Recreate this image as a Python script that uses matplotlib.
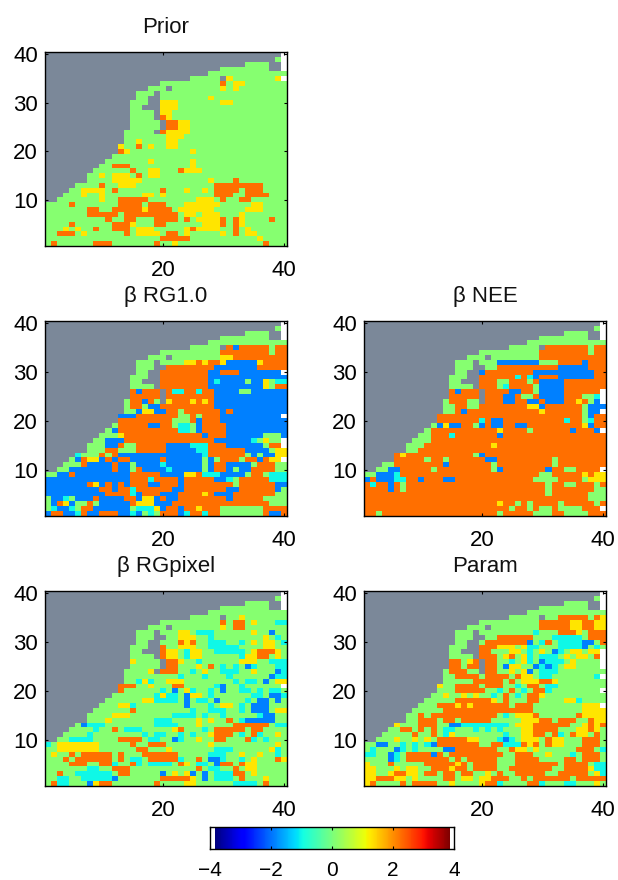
import numpy as np
import matplotlib
matplotlib.use("Agg")
import matplotlib.pyplot as plt

plt.rcParams['font.family'] = ['Liberation Sans', 'DejaVu Sans']

# cell classes: # sea, . near zero, y ~1.3, o ~2.3, c ~-1, b ~-2, _ blank
CLASS_VALUES = {'.': 0.11, 'y': 1.34, 'o': 2.34, 'c': -1.05, 'b': -2.0, '#': np.nan, '_': 99.0}

COAST_TOP = [
    "########## ########## ########## #########_",
    "########## ########## ########## ########._",
    "########## ########## ########## ###....##_",
    "########## ########## #########. .......##_",
    "########## ########## #######... ..........",
]

PRIOR = COAST_TOP + [
    "########## ########## ####.....# y.......y_",
    "########## #########. .........o .yy.......",
    "########## #######... #........y .y........",
    "########## #####...#. .......... ..........",
    "########## #####..##. .......y.. ..........",
    "########## ####...##y yy.......y y.........",
    "########## ####..###y yy........ ..........",
    "########## ####....#y y......... ..........",
    "########## ####....#o y......... ..........",
    "########## ####.....# ooyy...... ..........",
    "########## ####.....# ooyy...... ..........",
    "########## ###.....#o yyyy...... ..........",
    "########## ###....... yyy....... ..........",
    "########## ###..y.... yy........ ..........",
    "########## ##y..o.y.. yy........ ..........",
    "########## ##oy...... ....y..... ..........",
    "########## #......... .......... ..........",
    "########## .......y.. ....y..... ..........",
    "#########. .ooo...... ....y..... ..........",
    "########.. ....o..yy. ..oyyy.... ..........",
    "#######..y .yyy.o.yy. .......... ..........",
    "#######... .yyyyy.... .......y.. .o........",
    "#####....o ..yyy..... ........oo oooooo....",
    "####..yyyy .o.......o ...y..y.oo oo.ooo....",
    "###...y..y ......yy.y ........oo o..oooo...",
    "##.......y ..ooooo... .....yyy.o ..oo......",
    "....o..... ..oooo.ooo ...yyyyyy. ....yy....",
    ".......oo. .oooooyooo o.yyyyyy.. ...yyy....",
    ".......ooo oo.ooooooo oo.yy.yyy. ..y.......",
    ".......... o..oo...oo oo.o.yyyyo .oy....o..",
    "....o..... .oooy...oo ......yyyo .oy.......",
    "...y.y..o. .ooo.yyy.. ...yoyyyy. .o.y......",
    "..ooo.y... ...o.yyyy. oo.y.....y .o.yy.....",
    ".......... .........o oooo...... .....y....",
    ".o......oo o.......o. .y........ ......o...",
]

BETA_RG10 = COAST_TOP + [
    "########## ########## ####.....# obooooo.oo",
    "########## #########. .........o ooooooo.oo",
    "########## #######... #........y yooooooooo",
    "########## #####...#. ...yyoyooy bbbbbyoooo",
    "########## #####...## oooooooobb bbbbbooooo",
    "########## #####..##o ooooooobbo oobbbbbbb_",
    "########## ####...##o ooooooobbb bbbbbbbbbb",
    "########## ####..###o ooooooobcb bbb.bby.cc",
    "########## ####....#o ooooooobbb bbbbbby.oo",
    "########## ####obooo# occoocoobb bb..bbbbbb",
    "########## ####ooooo# oooooooobb bbbbbbbbbb",
    "########## ###.oobo.# yoooyoyobb bbbbbbbbbb",
    "########## ###.oo.bbo oooooooobb bbbbbbbbbb",
    "########## ###..byybb oo.oooooob obbbbbbbbb",
    "########## ##bbbooooo oo..o.ooob bbbbbbbbb_",
    "########## ##oooooooo o...obooob bbbbbbbbbb",
    "########## #.ooooobbo o.cc.boooo bbbbbbbbbb",
    "########## .boooooooo oocc.boooo bbbbbbbbbb",
    "#########. ..yooooooo oooooobooo bbbbbb...b",
    "########.. bbbooooooo oooooooobb bbbbc.y.._",
    "#######... bbo..ooooo bbbbcccooo bbbbbb.oo_",
    "#######... oo...ooooo bbbbbccooo ooobbbb.yy",
    "#####c...o .obbbbbbbb bbbbbbcooo ooo.b.bbyy",
    "####.boyyb oboobbbbbo bbbbbb.b.o oo.ooboyy_",
    "###...obbb bobb.bbbbc bbbbbb.boo bbbb.ooo..",
    "##..bbbbbb bobb.obbbb cbbbbb.boo b.bboooo..",
    "..bbobbbbb bbbbooooob bbbyyocccb bbb.oo.ccc",
    "bbbbbbbbbb bbbbooocoo oobooooobb c.oooooccc",
    "bbbbbbboyb obobooobbo oobooooooo o.oooooobb",
    "bbbbbbbbbo oboocooooo obbooooooo bboooooob.",
    "bbbbbbbbbb oooocbooob bbooooyobb booooooo..",
    ".bbc.bbbob bbboobyybo bboooooooo booooo....",
    ".boyb..o.b bbbboyyybb booooooooo ooooooo...",
    ".cbbc.oobb bbbb.cccyb oobooyooo. ......oooo",
    "boobbcobbo oobbcb.c.o oobcoocoo. ......obbo",
]

BETA_NEE = COAST_TOP + [
    "########## ########## ####.....# ooooooo.oo",
    "########## #########. .........o ooooooo.oo",
    "########## #######... #........o oooooooooo",
    "########## #####...#. ..bbbbbbb. ..oooobooo",
    "########## #####...## ..oooooooo oobbbbbooo",
    "########## #####..##b oooooooobb bbbbbbbboo",
    "########## ####...##o ooooococbo oobbbbbboo",
    "########## ####..###o oo..ooo.ob bbbooooooo",
    "########## ####....#o oo.coooo.b bbbooooooo",
    "########## ####obooo# oooobboo.b bbboooooo_",
    "########## ####ooooo# ooobbo..ob bbbooo..c_",
    "########## ###.ooo..# ooobboobbo bbbooyo.b_",
    "########## ###..oo..o oooooooyyb oooooo.bbb",
    "########## ###..obooo oooooooooy oooooo.bb_",
    "########## ##oooooooo oooooooooo oooooo.boo",
    "########## ##oooooooc obbooooooo ooocoo.coo",
    "########## #.bybboo.b obboobbooo ooooooyboo",
    "########## .ooooooooo ooyoooo.oo oooobooob_",
    "#########. .ooocooooo oobooooooo oooooooooo",
    "########.. .ooooooooo oooooooooo oooooooooo",
    "#######... oooooooooo oyoooooooo oooooooooo",
    "#######..o oooooooooo oooooooooo oooooooooo",
    "#####oyooo oooooooo.b oooooooooo oooooooooo",
    "#####ooooo .oo.oooooo bboooooooo o.oooooooo",
    "###..ooooo ooobOOOOOO o.oooooooo o.oooooooo".replace('O', 'o'),
    "##..bboooo o.oooooooo o.booooooo boo..oooo_",
    "..bbbcoooo oooooooooo ooooooooo. .oooooyoyy",
    "bobbbccoob ooobbooooo oooooooo.. ..oooo.yyy",
    "ocoobo.ooo oooooooooo oooooooooo .oo..ooo.o",
    "oooobo.ooo oooooooooo oooooooooo .ooooooo..",
    "oooooooooo oooooooooo oooooooooo .oooooo...",
    "oooooooooo oooooooooo oooooooooo ooooooo...",
    "oooooooooo oooooooooo ooyoo.o.oo oo.ooooo.o",
    "oooooooooo oooooooooo oooo.oo.o. .o....ooo_",
    "oo.ooooooo oooooooooo oo.ooooo.. .oo....ooo",
]

BETA_RGPIXEL = COAST_TOP + [
    "########## ########## ####.....# ..y.......",
    "########## #########. .........o .oo.y...cc",
    "########## #######... #........y .oo.......",
    "########## #####...#. ..yy.ccc.. ....y..b..",
    "########## #####...## ..yyy..c.. ......y.c.",
    "########## #####..##. ..oyo..ccc ..c.y.yy.c",
    "########## ####...##o ..yyy..ccc cc....yy..",
    "########## ####..###o yy.cyy..cc ccc.yoooy.",
    "########## ####....#o yy.cyy.... ..cyyoo.y.",
    "########## ####y....# ooy..c.... ..yyy..ccc",
    "########## ####.....# oo...y.o.c .c.bc...cc",
    "########## ###....y#o oo..c.y..c cc..y...bc",
    "########## ###....... ..c...c... c......bcc",
    "########## ###..cyc.. yyy....... .c.cc.b.yy",
    "########## ##ooo..y.. .oo.....cb ..c......_",
    "########## ##o......c .b.yc..c.b ..cc.c.cc.",
    "########## #.......cy cc.byy.c.. ....cc.bbc",
    "########## ......yycc cc.b.cc.b. ...c.bb.b.",
    "#########. ..yyc..... ...b...c.y y.c.bbb...",
    "########.. ....o..... ....c..ccc ..c.bbb.yy",
    "#######... .yyy...... .cccc.c..c .....cbb..",
    "#######... y.......cc c....y.y.. o.cbbbbb..",
    "#####.bccc ........cc cc...y.... .oooooo.cc",
    "####....c. .o.ccc.... .yo...c.oo ooo.oo....",
    "###....c.. ......c.cc ..c.c..yoo o.c.oc..y.",
    "##..cccc.. ..oooo.cc. .bc..y..oo ...oc.c...",
    "c.yyyyyyy. ....o..ooo .......y.. ........y.",
    "..yyyyyyy. .....oo... y.......cc c......yc.",
    ".y..o.oooo o.o...oooo oo.....ccc ..y..y..c.",
    "...o.ooooo o.o.cc.ooo ooc..o.bbc ..c.y...oy",
    "....ooo..o oc..oc.ccc c.oy.cc.bo o.oyy.....",
    ".......cc. .ooo...... .....o.cc. .o.yy.....",
    "..o..ccccc c.oo.....b .y.yb.b.cc coo.y.....",
    "..cc..cccc cb.......o ooooy.b.cc c.o...y...",
    ".occ...byo o.......o. ...yy..... .cccc.o...",
]

PARAM = COAST_TOP + [
    "########## ########## ####.....# ..ooooo.oy",
    "########## #########. .........o ooooyyooyy",
    "########## #######... #........o ooooyyooyy",
    "########## #####...#. ........c. ..oooy.ooo",
    "########## #####...## ..oooooo.. .ccccc.ooo",
    "########## #####..##. ooooooob.c o.ccccbb.o",
    "########## ####...##o ooyyy.ycc. ..ccccb.c.",
    "########## ####..###o o...yy.c.y .bc.yy.yy_",
    "########## ####....#o oo.yo.yc.c cc.y.yy.o_",
    "########## ####oo.yo# oo..c.yc.b ccc.y...._",
    "########## ####oo.oo# oo.byy..bc bc.yy...._",
    "########## ###.ooo..# oo..y.yb.c cc........",
    "########## ###..oooo. oooo.oyy.c c.......c_",
    "########## ###.....oo ooo.o.yyyo oy........",
    "########## ##y..oooo. ooo..c.oo. cc........",
    "########## ##...ooooo ..c.o.c.oo c........_",
    "########## #..y..y.y. .c.o.c.ooy ..........",
    "########## .....ooooo oy.o...oo. ...yyc....",
    "#########. ..oooyoyoo oooo.ooo.. ......yyy_",
    "########.. ...ooooooo oooooooo.. ......yyyy",
    "#######..o .ooooooooo oo.c.yyyo. .....oyyyy",
    "#######..o oo.oo.oooo o.....yyyo o.ooo..oyy",
    "#####y...o oo..bbcccc cccc.yyyoo oooo..yoyo",
    "####..oo.o .o.cc...c. c.c...yyoo oo...yyoy.",
    "###.....o. .o.cy..... ...c..yyoo .oc.oyy.o.",
    "##...y..y. y.oooooyy. ..cbc.yyy. oyy...ooo.",
    "..bb..c.c. cbooooooo. .oocccoyo. oyy...ooo.",
    ".c...bc.c. ...bbooooo oo..oyy.y. .....ooo.c",
    "cc..bc.ooo obo.oooooo ooo..ooo.. y...c.ooo.",
    "....bc.ooo oooo.o.ooo oo...oooo. ...oo.ooo.",
    "y...o..... oooooyo.oo oo...ooooo oo.oooo.cc",
    "yy...y.yy. .oooyoo.oo oo..oooooo o..ooooycc",
    "yy..yooyy. oo.oo.oo.. y.o..ooooo ..ooooo.yc",
    "yyoooyy.y. ...oo.yy.y yooo..o.oo oooo.ooooo",
    "yo....o.oo oo..y....y ooc....ooc ...cc...y.",
]

TITLES = ["Prior", "\u03b2 RG1.0", "\u03b2 NEE", "\u03b2 RGpixel", "Param"]
PANELS = [PRIOR, BETA_RG10, BETA_NEE, BETA_RGPIXEL, PARAM]
X_TICKS = [20, 40]
Y_TICKS = [10, 20, 30, 40]
CBAR_TICKS = [-4, -2, 0, 2, 4]
VMIN, VMAX = -4, 4

W, H = 618, 880
BOXES = [(45, 52, 287, 246), (45, 321, 287, 516), (364, 321, 606, 516),
         (45, 591, 287, 786), (364, 591, 606, 786)]
SEA = '#7b8899'


def decode(rows):
    out = []
    for row in rows:
        s = row.replace(' ', '').ljust(40, '.')[:40]
        out.append([CLASS_VALUES[ch] for ch in s])
    return np.array(out)


def add_axes(box):
    x0, y0, x1, y1 = box
    return fig.add_axes([x0 / W, 1 - y1 / H, (x1 - x0) / W, (y1 - y0) / H])


fig = plt.figure(figsize=(W / 100, H / 100), dpi=100)
cmap = plt.get_cmap('jet').copy()
cmap.set_bad(SEA)
cmap.set_over('white')

for rows, title, box in zip(PANELS, TITLES, BOXES):
    ax = add_axes(box)
    ax.imshow(decode(rows), cmap=cmap, vmin=VMIN, vmax=VMAX, origin='upper',
              extent=(0.5, 40.5, 0.5, 40.5), aspect='auto', interpolation='nearest')
    ax.set_xticks(X_TICKS)
    ax.set_yticks(Y_TICKS)
    ax.tick_params(direction='in', length=2.2, width=0.8, top=True, right=True,
                   labelsize=16, color='black')
    ax.tick_params(axis='x', pad=10)
    ax.tick_params(axis='y', pad=5)
    for s in ax.spines.values():
        s.set_linewidth(1.0)
    ax.set_title(title, fontsize=16, pad=13.5, color='#111111')

cax = add_axes((210, 827, 454, 849))
gradient = np.linspace(VMIN, VMAX, 256)[None, :]
cax.imshow(gradient, cmap='jet', vmin=VMIN, vmax=VMAX, extent=(-3.84, 3.84, 0, 1),
           aspect='auto', interpolation='nearest')
cax.set_xlim(VMIN, VMAX)
cax.set_ylim(0, 1)
cax.set_yticks([])
cax.set_xticks(CBAR_TICKS)
cax.set_xticklabels(['\u2212' + str(-t) if t < 0 else str(t) for t in CBAR_TICKS])
cax.tick_params(axis='x', direction='in', length=2.2, width=0.8, top=True, labelsize=15, pad=8.5)
for s in cax.spines.values():
    s.set_linewidth(1.0)

fig.savefig('out.png', dpi=100)
